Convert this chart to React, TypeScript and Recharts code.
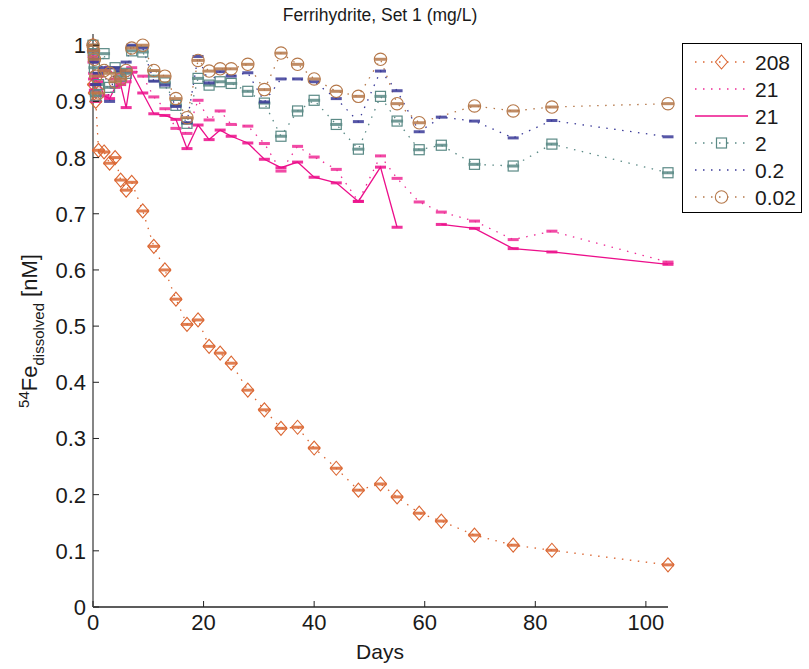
import { ComposedChart, Line, XAxis, YAxis, Legend } from 'recharts'

// sampling days (shared by all series)
const DAYS = [0, 0.1, 0.25, 0.5, 1, 2, 3, 4, 5, 6, 7, 9, 11, 13, 15, 17, 19, 21, 23, 25, 28, 31, 34, 37, 40, 44, 48, 52, 55, 59, 63, 69, 76, 83, 104]

// dissolved 54Fe [nM] per ferrihydrite load (mg/L)
const FE_208 = [1.0, 0.93, 0.915, 0.9, 0.813, 0.81, 0.79, 0.8, 0.76, 0.742, 0.756, 0.705, 0.642, 0.6, 0.548, 0.503, 0.511, 0.464, 0.452, 0.434, 0.386, 0.351, 0.318, 0.32, 0.283, 0.247, 0.208, 0.219, 0.196, 0.167, 0.153, 0.128, 0.11, 0.101, 0.075]
const FE_21_DOTTED = [0.98, 0.95, 0.93, 0.9, 0.945, 0.955, 0.96, 0.94, 0.95, 0.935, 0.96, 0.945, 0.908, 0.887, 0.852, 0.843, 0.902, 0.867, 0.883, 0.859, 0.856, 0.825, 0.776, 0.82, 0.801, 0.779, 0.722, 0.803, 0.763, 0.721, 0.703, 0.687, 0.654, 0.669, 0.614]
const FE_21_SOLID = [0.97, 0.94, 0.92, 0.93, 0.935, 0.91, 0.905, 0.925, 0.93, 0.889, 0.952, 0.915, 0.878, 0.875, 0.868, 0.816, 0.858, 0.832, 0.849, 0.838, 0.826, 0.797, 0.782, 0.792, 0.765, 0.755, 0.722, 0.783, 0.676, null, 0.681, 0.674, 0.638, 0.632, 0.61]
const FE_2 = [1.0, 0.985, 0.96, 0.91, 0.93, 0.985, 0.925, 0.96, 0.945, 0.95, 0.99, 0.988, 0.945, 0.933, 0.893, 0.861, 0.941, 0.929, 0.935, 0.932, 0.918, 0.897, 0.838, 0.883, 0.902, 0.859, 0.815, 0.909, 0.865, 0.814, 0.822, 0.788, 0.785, 0.824, 0.773]
const FE_02 = [0.99, 0.975, 0.97, 0.93, 0.95, 0.96, 0.9, 0.96, 0.955, 0.97, 1.0, 0.995, 0.936, 0.929, 0.891, 0.862, 0.98, 0.933, 0.953, 0.945, 0.951, 0.899, 0.94, 0.94, 0.935, 0.905, 0.864, 0.954, 0.919, 0.846, 0.872, 0.865, 0.835, 0.866, 0.837]
const FE_002 = [1.0, 0.99, 0.975, 0.945, 0.915, 0.955, 0.95, 0.935, 0.94, 0.955, 0.995, 1.0, 0.955, 0.945, 0.905, 0.871, 0.973, 0.954, 0.958, 0.958, 0.966, 0.921, 0.986, 0.966, 0.94, 0.918, 0.909, 0.975, 0.896, 0.862, null, 0.892, 0.883, 0.89, 0.896]

const X_TICKS = [0, 20, 40, 60, 80, 100]
const Y_TICKS = [0, 0.1, 0.2, 0.3, 0.4, 0.5, 0.6, 0.7, 0.8, 0.9, 1]

const FONT = '"Liberation Sans", Arial, Helvetica, sans-serif'
const DOTTED = '1.5 6.5'

type Marker = 'diamond' | 'square' | 'circle' | 'none'

const SERIES: { key: string; name: string; values: (number | null)[]; color: string; dash?: string; marker: Marker; connect: boolean }[] = [
    { key: 'fe208', name: '208', values: FE_208, color: '#db6733', dash: DOTTED, marker: 'diamond', connect: true },
    { key: 'fe21d', name: '21', values: FE_21_DOTTED, color: '#ee2a95', dash: DOTTED, marker: 'none', connect: true },
    { key: 'fe21s', name: '21', values: FE_21_SOLID, color: '#ec0f8b', marker: 'none', connect: false },
    { key: 'fe2', name: '2', values: FE_2, color: '#5b8a86', dash: DOTTED, marker: 'square', connect: true },
    { key: 'fe02', name: '0.2', values: FE_02, color: '#3a3a98', dash: DOTTED, marker: 'none', connect: true },
    { key: 'fe002', name: '0.02', values: FE_002, color: '#b5784a', dash: DOTTED, marker: 'circle', connect: true },
]

const chartData = DAYS.map((day, i) => {
    const row: Record<string, number | null> = { day }
    SERIES.forEach(s => { row[s.key] = s.values[i] })
    return row
})

function markerShape(kind: Marker, color: string, cx: number, cy: number) {
    if (kind === 'diamond') {
        return <path d={`M${cx},${cy - 7} L${cx + 6},${cy} L${cx},${cy + 7} L${cx - 6},${cy} Z`} fill="none" stroke={color} strokeWidth={1.1} />
    }
    if (kind === 'square') {
        return <rect x={cx - 5} y={cy - 5} width={10} height={10} fill="none" stroke={color} strokeWidth={1.2} />
    }
    if (kind === 'circle') {
        return <circle cx={cx} cy={cy} r={6.2} fill="none" stroke={color} strokeWidth={1.1} />
    }
    return null
}

// marker plus the (very short) error bar caps, which read as a small dash
const makeDot = (kind: Marker, color: string) => (props: any) => {
    const { cx, cy, index, value } = props
    if (cx == null || cy == null || value == null) return <g key={`n-${index}`} />
    const capW = kind === 'none' ? 11 : 12
    return (
        <g key={`d-${index}`}>
            <rect x={cx - capW / 2} y={cy - 1.5} width={capW} height={3} fill={color} opacity={0.85} />
            {markerShape(kind, color, cx, cy)}
        </g>
    )
}

const XTick = ({ x, y, payload }: any) => (
    <g>
        <line x1={x} x2={x} y1={y} y2={y - 6} stroke="#222" />
        <text x={x} y={y + 23} textAnchor="middle" fontSize={22} fontFamily={FONT} fill="#1a1a1a">{payload.value}</text>
    </g>
)

const YTick = ({ x, y, payload }: any) => (
    <g>
        <line x1={x} x2={x + 6} y1={y} y2={y} stroke="#222" />
        <text x={x - 7} y={y} dy="0.36em" textAnchor="end" fontSize={22} fontFamily={FONT} fill="#1a1a1a">
            {payload.value === 0 || payload.value === 1 ? payload.value : payload.value.toFixed(1)}
        </text>
    </g>
)

const renderLegend = () => (
    <svg width={120} height={170} style={{ display: 'block' }}>
        <rect x={0.5} y={0.5} width={119} height={169} fill="#fff" stroke="#000" />
        {SERIES.map((s, i) => {
            const y = 19 + i * 27
            return (
                <g key={s.key}>
                    <line x1={13} x2={66} y1={y} y2={y} stroke={s.color} strokeWidth={s.dash ? 1.3 : 1.4} strokeDasharray={s.dash} />
                    {markerShape(s.marker, s.color, 39.5, y)}
                    <text x={73} y={y} dy="0.36em" fontSize={21} fontFamily={FONT} fill="#1a1a1a">{s.name}</text>
                </g>
            )
        })}
    </svg>
)

const YLabel = () => (
    <text transform="translate(37,331) rotate(-90)" textAnchor="middle" fontFamily={FONT} fill="#1a1a1a" fontSize={22}>
        <tspan fontSize={15} dy={-8}>54</tspan>
        <tspan dy={8}>Fe</tspan>
        <tspan fontSize={15} dy={7}>dissolved</tspan>
        <tspan dy={-7}> [nM]</tspan>
    </text>
)

const XLabel = () => (
    <text x={380} y={659} textAnchor="middle" fontSize={21} fontFamily={FONT} fill="#1a1a1a">Days</text>
)

export default function App() {
    return (
        <div style={{ position: 'absolute', left: 0, top: 0, width: 809, height: 669, background: '#fff' }}>
            <ComposedChart width={809} height={669} data={chartData} margin={{ top: 34, right: 141, bottom: 0, left: 0 }}>
                <text x={380} y={21} textAnchor="middle" fontSize={17.5} fontFamily={FONT} fill="#1a1a1a">Ferrihydrite, Set 1 (mg/L)</text>
                <XAxis
                    type="number"
                    dataKey="day"
                    domain={[0, 104]}
                    ticks={X_TICKS}
                    tick={XTick}
                    tickLine={false}
                    tickSize={0}
                    tickMargin={0}
                    height={62}
                    axisLine={{ stroke: '#262626', strokeWidth: 1.3 }}
                    label={{ content: XLabel }}
                />
                <YAxis
                    type="number"
                    domain={[0, 1.02]}
                    ticks={Y_TICKS}
                    tick={YTick}
                    tickLine={false}
                    tickSize={0}
                    tickMargin={0}
                    width={93}
                    axisLine={{ stroke: '#858585', strokeWidth: 2 }}
                    label={{ content: YLabel }}
                />
                {SERIES.map(s => (
                    <Line
                        key={s.key}
                        type="linear"
                        dataKey={s.key}
                        name={s.name}
                        stroke={s.color}
                        strokeWidth={1.3}
                        strokeDasharray={s.dash}
                        connectNulls={s.connect}
                        dot={makeDot(s.marker, s.color)}
                        activeDot={false}
                        isAnimationActive={false}
                    />
                ))}
                <Legend
                    layout="vertical"
                    align="center"
                    verticalAlign="middle"
                    content={renderLegend}
                    wrapperStyle={{ left: 682, top: 43, width: 120, height: 170 }}
                />
            </ComposedChart>
        </div>
    )
}
